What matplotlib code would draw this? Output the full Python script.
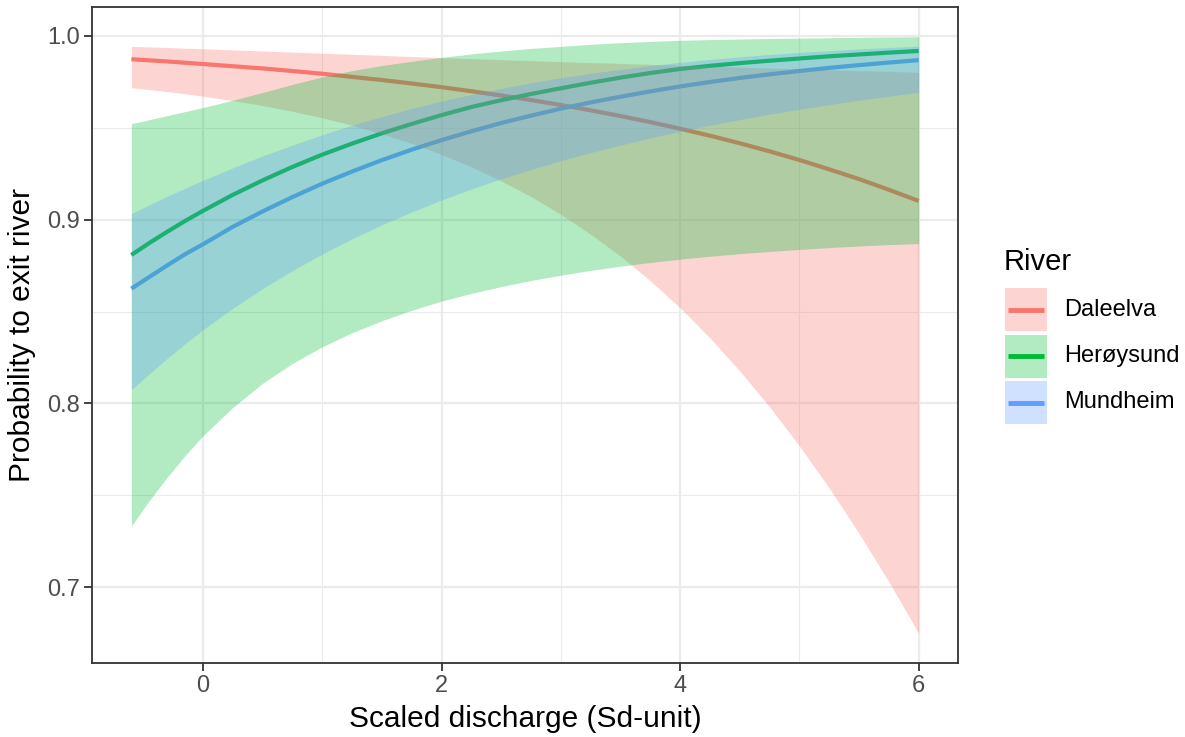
import matplotlib
matplotlib.use("Agg")
import matplotlib.pyplot as plt
from matplotlib.patches import Rectangle
from matplotlib.lines import Line2D
from matplotlib.ticker import MultipleLocator

plt.rcParams['font.family'] = ['Liberation Sans', 'DejaVu Sans']

# Predicted exit probability (with 95% band) over scaled discharge
discharge = [-0.6, -0.45, -0.3, -0.15, 0, 0.25, 0.5, 0.75, 1, 1.25, 1.5, 1.75, 2, 2.25,
             2.5, 2.75, 3, 3.25, 3.5, 3.75, 4, 4.25, 4.5, 4.75, 5, 5.25, 5.5, 5.75, 6]

daleelva_fit = [0.9873, 0.9867, 0.9861, 0.9854, 0.9847, 0.9835, 0.9823, 0.9809, 0.9794,
                0.9777, 0.9760, 0.9741, 0.9721, 0.9699, 0.9676, 0.9651, 0.9624, 0.9595,
                0.9564, 0.9531, 0.9495, 0.9457, 0.9416, 0.9372, 0.9325, 0.9274, 0.9221,
                0.9163, 0.9102]
daleelva_lo = [0.9718, 0.9708, 0.9697, 0.9685, 0.9672, 0.9648, 0.9621, 0.9590, 0.9554,
               0.9514, 0.9467, 0.9415, 0.9355, 0.9288, 0.9211, 0.9126, 0.9029, 0.8921,
               0.8802, 0.8668, 0.8521, 0.8357, 0.8177, 0.7982, 0.7769, 0.7540, 0.7293,
               0.7030, 0.6750]
daleelva_hi = [0.9943, 0.9940, 0.9937, 0.9933, 0.9930, 0.9924, 0.9918, 0.9912, 0.9906,
               0.9900, 0.9894, 0.9888, 0.9882, 0.9876, 0.9871, 0.9865, 0.9860, 0.9855,
               0.9850, 0.9845, 0.9840, 0.9835, 0.9830, 0.9825, 0.9820, 0.9816, 0.9811,
               0.9807, 0.9802]

heroysund_fit = [0.8808, 0.8873, 0.8934, 0.8993, 0.9048, 0.9135, 0.9214, 0.9287, 0.9354,
                 0.9414, 0.9470, 0.9521, 0.9569, 0.9613, 0.9650, 0.9684, 0.9715, 0.9745,
                 0.9773, 0.9798, 0.9820, 0.9837, 0.9852, 0.9865, 0.9877, 0.9889, 0.9899,
                 0.9909, 0.9918]
heroysund_lo = [0.7333, 0.7471, 0.7598, 0.7716, 0.7824, 0.7978, 0.8110, 0.8218, 0.8308,
                0.8385, 0.8450, 0.8507, 0.8557, 0.8599, 0.8636, 0.8669, 0.8698, 0.8724,
                0.8747, 0.8767, 0.8785, 0.8801, 0.8815, 0.8827, 0.8838, 0.8848, 0.8857,
                0.8864, 0.8870]
heroysund_hi = [0.9522, 0.9544, 0.9566, 0.9588, 0.9610, 0.9650, 0.9692, 0.9736, 0.9777,
                0.9811, 0.9839, 0.9862, 0.9883, 0.9902, 0.9918, 0.9932, 0.9943, 0.9954,
                0.9963, 0.9970, 0.9976, 0.9980, 0.9983, 0.9986, 0.9988, 0.9990, 0.9992,
                0.9994, 0.9995]

mundheim_fit = [0.8625, 0.8688, 0.8751, 0.8812, 0.8866, 0.8961, 0.9045, 0.9123, 0.9196,
                0.9262, 0.9324, 0.9381, 0.9433, 0.9481, 0.9526, 0.9566, 0.9604, 0.9638,
                0.9669, 0.9698, 0.9725, 0.9749, 0.9771, 0.9791, 0.9809, 0.9826, 0.9841,
                0.9855, 0.9868]
mundheim_lo = [0.8075, 0.8161, 0.8245, 0.8325, 0.8401, 0.8518, 0.8625, 0.8723, 0.8813,
               0.8896, 0.8972, 0.9042, 0.9107, 0.9167, 0.9222, 0.9273, 0.9321, 0.9365,
               0.9406, 0.9445, 0.9480, 0.9514, 0.9545, 0.9574, 0.9601, 0.9626, 0.9650,
               0.9672, 0.9693]
mundheim_hi = [0.9033, 0.9081, 0.9127, 0.9171, 0.9214, 0.9282, 0.9347, 0.9406, 0.9462,
               0.9514, 0.9561, 0.9605, 0.9645, 0.9681, 0.9714, 0.9745, 0.9772, 0.9796,
               0.9818, 0.9838, 0.9856, 0.9872, 0.9886, 0.9899, 0.9910, 0.9920, 0.9929,
               0.9937, 0.9944]

rivers = ['Daleelva', 'Herøysund', 'Mundheim']
colors = ['#F8766D', '#00BA38', '#619CFF']
fits = [daleelva_fit, heroysund_fit, mundheim_fit]
lows = [daleelva_lo, heroysund_lo, mundheim_lo]
highs = [daleelva_hi, heroysund_hi, mundheim_hi]

W, H = 1185, 737
fig = plt.figure(figsize=(W / 100, H / 100), dpi=100)
ax = fig.add_axes([92 / W, 1 - 663 / H, 866 / W, 656 / H])

# lines first, ribbons on top of them
for fit, col in zip(fits, colors):
    ax.plot(discharge, fit, color=col, lw=3, solid_capstyle='butt', zorder=2)
for lo, hi, col in zip(lows, highs, colors):
    ax.fill_between(discharge, lo, hi, color=col, alpha=0.3, lw=0, zorder=3)

# limits with 5% padding like ggplot
xmin, xmax = min(discharge), max(discharge)
ymin = min(min(l) for l in lows)
ymax = max(max(h) for h in highs)
xpad = 0.05 * (xmax - xmin)
ypad = 0.05 * (ymax - ymin)
ax.set_xlim(xmin - xpad, xmax + xpad)
ax.set_ylim(ymin - ypad, ymax + ypad)

ax.xaxis.set_major_locator(MultipleLocator(2))
ax.xaxis.set_minor_locator(MultipleLocator(1))
ax.yaxis.set_major_locator(MultipleLocator(0.1))
ax.yaxis.set_minor_locator(MultipleLocator(0.05))
ax.yaxis.set_major_formatter(plt.FuncFormatter(lambda v, p: f'{v:.1f}'))

ax.grid(which='major', color='#EBEBEB', lw=1.6, zorder=0)
ax.grid(which='minor', color='#EBEBEB', lw=0.8, zorder=0)
ax.set_axisbelow(True)
for s in ax.spines.values():
    s.set_color('#333333')
    s.set_linewidth(1.3)
ax.tick_params(which='major', length=5.5, width=1.3, color='#333333',
               labelcolor='#4D4D4D', labelsize=17, pad=3)
ax.tick_params(which='minor', length=0)

ax.set_xlabel('Scaled discharge (Sd-unit)', fontsize=21.5, labelpad=6)
ax.set_ylabel('Probability to exit river', fontsize=21.5, labelpad=8)

# legend drawn by hand: filled key with the line across it
def fx(px):
    return px / W

def fy(py):
    return 1 - py / H

fig.text(fx(1004), fy(262), 'River', fontsize=21, va='center', ha='left')
key_w, key_h, key_step = 42, 43, 46.5
for i, (name, col) in enumerate(zip(rivers, colors)):
    top = 288 + i * key_step
    fig.add_artist(Rectangle((fx(1005), fy(top + key_h)), key_w / W, key_h / H,
                             transform=fig.transFigure, facecolor=col, alpha=0.3,
                             edgecolor='none'))
    cy = top + key_h / 2
    fig.add_artist(Line2D([fx(1008), fx(1044)], [fy(cy), fy(cy)],
                          transform=fig.transFigure, color=col, lw=3.5,
                          solid_capstyle='butt'))
    fig.text(fx(1064), fy(cy), name, fontsize=17, va='center', ha='left')

fig.savefig('out.png', dpi=100)
